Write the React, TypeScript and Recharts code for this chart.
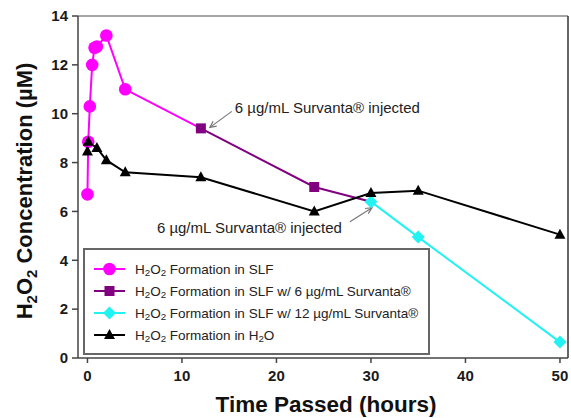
import React from "react";
import {
  LineChart,
  Line,
  XAxis,
  YAxis,
  Legend,
  Label,
  ReferenceLine,
  ReferenceDot,
} from "recharts";

// H2O2 formation data (hours, µM)
const slfTimes = [0, 0.083, 0.25, 0.5, 0.75, 1, 2, 4, 12];
const slfValues = [6.7, 8.85, 10.3, 12.0, 12.7, 12.75, 13.2, 11.0, 9.4];

const surv6Times = [12, 24, 30];
const surv6Values = [9.4, 7.0, 6.4];

const surv12Times = [30, 35, 50];
const surv12Values = [6.4, 4.95, 0.65];

const waterTimes = [0, 0.083, 1, 2, 4, 12, 24, 30, 35, 50];
const waterValues = [8.45, 8.85, 8.6, 8.1, 7.6, 7.4, 6.0, 6.75, 6.85, 5.05];

const xTicks = [0, 10, 20, 30, 40, 50];
const yTicks = [0, 2, 4, 6, 8, 10, 12, 14];

const annotationText = "6 µg/mL Survanta® injected";

const FONT = "'Liberation Sans', Arial, sans-serif";

const toPoints = (times: number[], values: number[]) =>
  times.map((t, i) => ({ t, v: values[i] }));

const slfData = toPoints(slfTimes, slfValues);
const surv6Data = toPoints(surv6Times, surv6Values);
const surv12Data = toPoints(surv12Times, surv12Values);
const waterData = toPoints(waterTimes, waterValues);

type MarkerKind = "circle" | "square" | "diamond" | "triangle";

const Marker = ({ kind, cx, cy, color }: { kind: MarkerKind; cx: number; cy: number; color: string }) => {
  if (kind === "circle") return <circle cx={cx} cy={cy} r={6.3} fill={color} />;
  if (kind === "square") return <rect x={cx - 5} y={cy - 5} width={10} height={10} fill={color} />;
  if (kind === "diamond")
    return <polygon points={`${cx},${cy - 6.5} ${cx + 6.5},${cy} ${cx},${cy + 6.5} ${cx - 6.5},${cy}`} fill={color} />;
  return <polygon points={`${cx},${cy - 6} ${cx + 5.5},${cy + 4} ${cx - 5.5},${cy + 4}`} fill={color} />;
};

// dot renderer; skipLast hides the joining point that the next series covers
const makeDot = (kind: MarkerKind, color: string, skipLast: number) => (props: any) => {
  const { cx, cy, index } = props;
  if (index >= skipLast || cx == null || cy == null) return <g key={`d-${index}`} />;
  return (
    <g key={`d-${index}`}>
      <Marker kind={kind} cx={cx} cy={cy} color={color} />
    </g>
  );
};

const series = [
  { name: "slf", label: "in SLF", color: "#ff00ff", kind: "circle" as MarkerKind, data: slfData, skip: slfData.length - 1 },
  { name: "s6", label: "in SLF w/ 6 µg/mL Survanta®", color: "#800080", kind: "square" as MarkerKind, data: surv6Data, skip: surv6Data.length - 1 },
  { name: "s12", label: "in SLF w/ 12 µg/mL Survanta®", color: "#22f2f2", kind: "diamond" as MarkerKind, data: surv12Data, skip: surv12Data.length },
  { name: "h2o", label: "in H2O", color: "#000000", kind: "triangle" as MarkerKind, data: waterData, skip: waterData.length },
];

const Sub = ({ children }: { children: React.ReactNode }) => (
  <span style={{ fontSize: "0.72em", position: "relative", top: "0.3em" }}>{children}</span>
);

const LegendBox = () => (
  <div
    style={{
      border: "2px solid #666",
      background: "#fff",
      padding: "8px 0 8px 8px",
      fontFamily: FONT,
      fontSize: 13.5,
      color: "#222",
      boxSizing: "border-box",
      height: 107,
    }}
  >
    {series.map((s) => (
      <div key={s.name} style={{ display: "flex", alignItems: "center", height: 22 }}>
        <svg width={38} height={16} style={{ marginRight: 4 }}>
          <line x1={1} y1={8} x2={32} y2={8} stroke={s.color} strokeWidth={2} />
          <Marker kind={s.kind} cx={16.5} cy={8} color={s.color} />
        </svg>
        <span>
          H<Sub>2</Sub>O<Sub>2</Sub> Formation{" "}
          {s.name === "h2o" ? (
            <>
              in H<Sub>2</Sub>O
            </>
          ) : (
            s.label
          )}
        </span>
      </div>
    ))}
  </div>
);

const Arrow = ({ x1, y1, x2, y2 }: { x1: number; y1: number; x2: number; y2: number }) => {
  const a = Math.atan2(y2 - y1, x2 - x1);
  const h = 7;
  const p1 = [x2 - h * Math.cos(a - 0.45), y2 - h * Math.sin(a - 0.45)];
  const p2 = [x2 - h * Math.cos(a + 0.45), y2 - h * Math.sin(a + 0.45)];
  return (
    <g stroke="#777" strokeWidth={1.2} fill="none">
      <line x1={x1} y1={y1} x2={x2} y2={y2} />
      <polyline points={`${p1[0]},${p1[1]} ${x2},${y2} ${p2[0]},${p2[1]}`} />
    </g>
  );
};

const FirstNote = (props: any) => {
  const { cx, cy } = props;
  return (
    <g>
      <Arrow x1={cx + 31} y1={cy - 17} x2={cx + 9} y2={cy - 1} />
      <text x={cx + 34} y={cy - 15} fontSize={15} fontFamily={FONT} fill="#222">
        {annotationText}
      </text>
    </g>
  );
};

const SecondNote = (props: any) => {
  const { cx, cy } = props;
  return (
    <g>
      <Arrow x1={cx - 21} y1={cy + 20} x2={cx + 1} y2={cy + 6} />
      <text x={cx - 29} y={cy + 31} fontSize={15} fontFamily={FONT} fill="#222" textAnchor="end">
        {annotationText}
      </text>
    </g>
  );
};

const YTitle = (props: any) => {
  const vb = props.viewBox || { x: 0, y: 16, width: 78, height: 342 };
  const x = vb.x + 32;
  const y = vb.y + vb.height / 2 + 4;
  return (
    <text
      x={x}
      y={y}
      transform={`rotate(-90, ${x}, ${y})`}
      textAnchor="middle"
      fontSize={22}
      fontWeight="bold"
      fontFamily={FONT}
      fill="#111"
    >
      H<tspan fontSize={15} dy={5}>2</tspan>
      <tspan dy={-5}>O</tspan>
      <tspan fontSize={15} dy={5}>2</tspan>
      <tspan dy={-5}> Concentration (µM)</tspan>
    </text>
  );
};

const XTitle = (props: any) => {
  const vb = props.viewBox || { x: 78, y: 358, width: 490, height: 60 };
  return (
    <text
      x={vb.x + vb.width / 2 + 3}
      y={vb.y + 54}
      textAnchor="middle"
      fontSize={22.5}
      fontWeight="bold"
      fontFamily={FONT}
      fill="#111"
    >
      Time Passed (hours)
    </text>
  );
};

const tickStyle = { fontSize: 15, fontWeight: "bold", fill: "#1a1a1a", fontFamily: FONT };

export default function App() {
  return (
    <div style={{ position: "absolute", left: 0, top: 0, width: 571, height: 418, background: "#fff" }}>
      <LineChart width={571} height={418} margin={{ top: 16, right: 3, bottom: 0, left: 0 }}>
        <XAxis
          type="number"
          dataKey="t"
          domain={[-1, 50.85]}
          ticks={xTicks}
          allowDataOverflow
          height={60}
          tick={tickStyle}
          tickSize={5}
          tickMargin={7}
          axisLine={{ stroke: "#444", strokeWidth: 1.5 }}
          tickLine={{ stroke: "#444", strokeWidth: 1.5 }}
        >
          <Label content={<XTitle />} />
        </XAxis>
        <YAxis
          type="number"
          domain={[0, 14]}
          ticks={yTicks}
          width={78}
          tick={tickStyle}
          tickSize={6}
          tickMargin={4}
          axisLine={{ stroke: "#444", strokeWidth: 1.5 }}
          tickLine={{ stroke: "#444", strokeWidth: 1.5 }}
        >
          <Label content={<YTitle />} />
        </YAxis>
        <ReferenceLine y={14} stroke="#888" strokeWidth={1.5} />
        <ReferenceLine x={50.85} stroke="#333" strokeWidth={1.5} />
        {series.map((s) => (
          <Line
            key={s.name}
            data={s.data}
            dataKey="v"
            name={s.name}
            stroke={s.color}
            strokeWidth={2}
            dot={makeDot(s.kind, s.color, s.skip)}
            activeDot={false}
            isAnimationActive={false}
          />
        ))}
        <ReferenceDot x={surv6Times[0]} y={surv6Values[0]} r={0} shape={FirstNote} />
        <ReferenceDot x={surv12Times[0]} y={surv12Values[0]} r={0} shape={SecondNote} />
        <Legend
          layout="vertical"
          align="center"
          verticalAlign="middle"
          content={<LegendBox />}
          wrapperStyle={{ position: "absolute", left: 83, top: 248, width: 347, height: 107 }}
        />
      </LineChart>
    </div>
  );
}
